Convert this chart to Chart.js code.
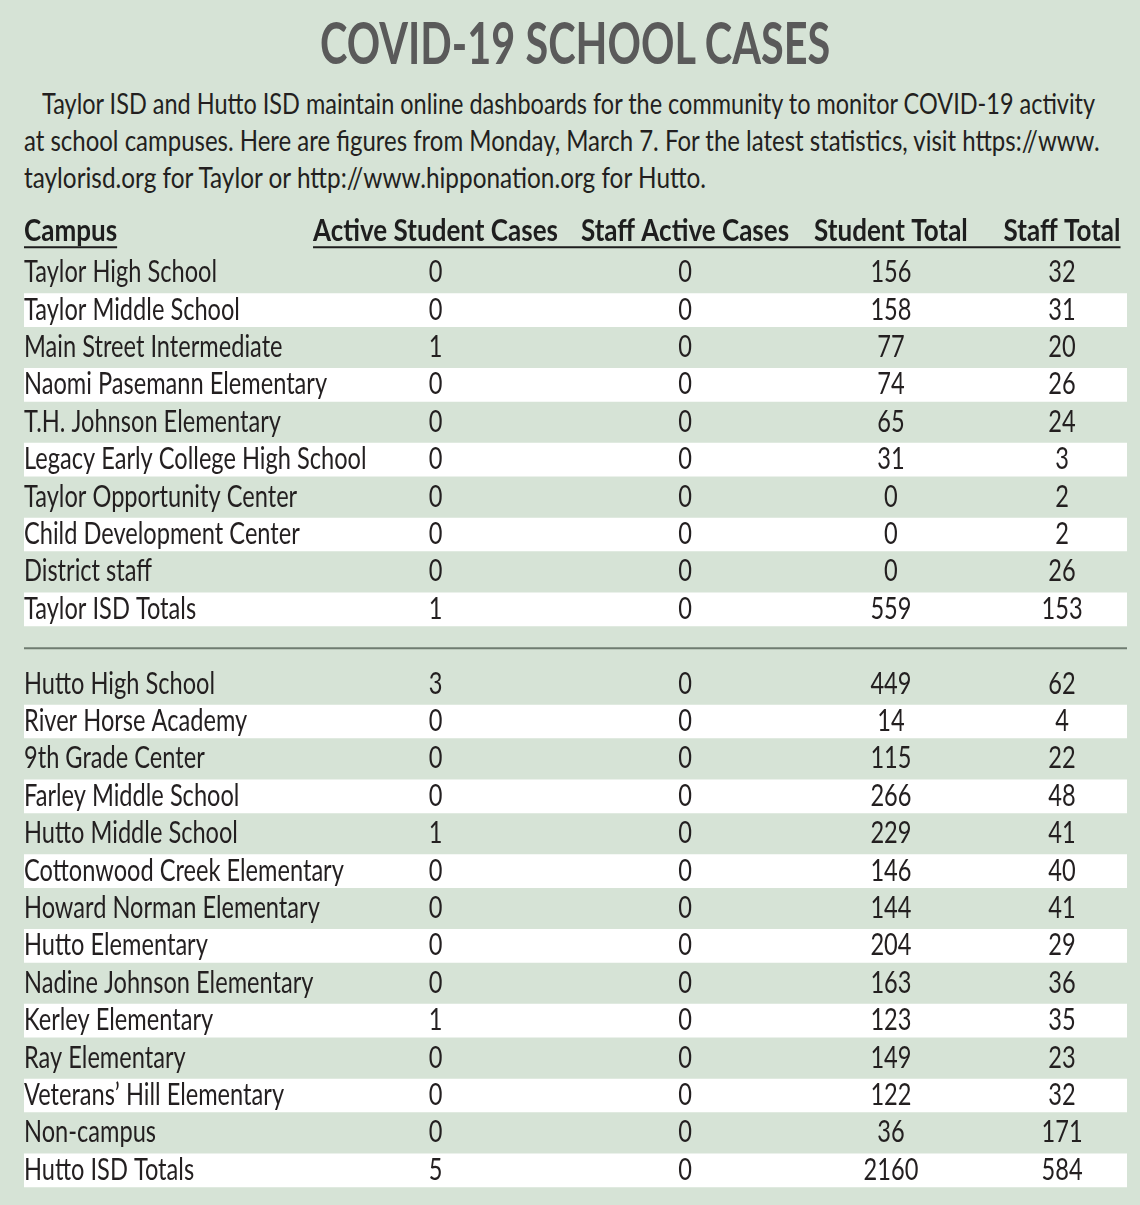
<!DOCTYPE html>
<html>
<head>
<meta charset="utf-8">
<title>COVID-19 School Cases</title>
<script src="https://cdn.jsdelivr.net/npm/chart.js@4.4.1/dist/chart.umd.min.js"></script>
<style>
    html, body { margin: 0; padding: 0; background: #d6e3d6; }
    #page { position: relative; width: 1140px; height: 1205px; overflow: hidden; }
    .line {
        position: absolute; white-space: nowrap; font-family: Lato, sans-serif;
        color: #231f20; line-height: 1.2; transform-origin: 0 0;
    }
    #title { font-weight: 700; font-size: 58px; color: #5a5a5a; top: 7px; left: 320px; }
    .para { font-size: 28px; }
    #table-chart { position: absolute; left: 0; top: 0; }
</style>
</head>
<body>
<div id="page">
    <div id="title" class="line"></div>
    <div id="intro-0" class="line para"></div>
    <div id="intro-1" class="line para"></div>
    <div id="intro-2" class="line para"></div>
    <canvas id="table-chart" width="1140" height="1205"></canvas>
</div>
<script>
// Teks judul dan pengantar
const titleText = 'COVID-19 SCHOOL CASES';
const introLines = [
    'Taylor ISD and Hutto ISD maintain online dashboards for the community to monitor COVID-19 activity',
    'at school campuses. Here are figures from Monday, March 7. For the latest statistics, visit https://www.',
    'taylorisd.org for Taylor or http://www.hipponation.org for Hutto.'
];

// Kolom tabel
const headers = ['Campus', 'Active Student Cases', 'Staff Active Cases', 'Student Total', 'Staff Total'];

// Taylor ISD
const taylorCampuses = [
    'Taylor High School', 'Taylor Middle School', 'Main Street Intermediate',
    'Naomi Pasemann Elementary', 'T.H. Johnson Elementary', 'Legacy Early College High School',
    'Taylor Opportunity Center', 'Child Development Center', 'District staff', 'Taylor ISD Totals'
];
const taylorActiveStudent = [0, 0, 1, 0, 0, 0, 0, 0, 0, 1];
const taylorStaffActive   = [0, 0, 0, 0, 0, 0, 0, 0, 0, 0];
const taylorStudentTotal  = [156, 158, 77, 74, 65, 31, 0, 0, 0, 559];
const taylorStaffTotal    = [32, 31, 20, 26, 24, 3, 2, 2, 26, 153];

// Hutto ISD
const huttoCampuses = [
    'Hutto High School', 'River Horse Academy', '9th Grade Center', 'Farley Middle School',
    'Hutto Middle School', 'Cottonwood Creek Elementary', 'Howard Norman Elementary',
    'Hutto Elementary', 'Nadine Johnson Elementary', 'Kerley Elementary', 'Ray Elementary',
    'Veterans\u2019 Hill Elementary', 'Non-campus', 'Hutto ISD Totals'
];
const huttoActiveStudent = [3, 0, 0, 0, 1, 0, 0, 0, 0, 1, 0, 0, 0, 5];
const huttoStaffActive   = [0, 0, 0, 0, 0, 0, 0, 0, 0, 0, 0, 0, 0, 0];
const huttoStudentTotal  = [449, 14, 115, 266, 229, 146, 144, 204, 163, 123, 149, 122, 36, 2160];
const huttoStaffTotal    = [62, 4, 22, 48, 41, 40, 41, 29, 36, 35, 23, 32, 171, 584];

// Posisi kolom pada sumbu x (0..1 = lebar tabel)
const colPos = [0, 0.3731, 0.5993, 0.786, 0.9411];
const textColor = '#231f20';

// Susun baris: Taylor, jarak, Hutto
function buildRows() {
    const rows = [];
    taylorCampuses.forEach((name, i) => {
        rows.push({ type: 'data', name, stripe: i % 2 === 1,
            values: [taylorActiveStudent[i], taylorStaffActive[i], taylorStudentTotal[i], taylorStaffTotal[i]] });
    });
    rows.push({ type: 'gap', name: '' });
    huttoCampuses.forEach((name, i) => {
        rows.push({ type: 'data', name, stripe: i % 2 === 1,
            values: [huttoActiveStudent[i], huttoStaffActive[i], huttoStudentTotal[i], huttoStaffTotal[i]] });
    });
    return rows;
}
const rows = buildRows();

function drawScaled(ctx, str, px, py, align, sx) {
    ctx.save();
    ctx.translate(px, py);
    ctx.scale(sx, 1);
    ctx.textAlign = align;
    ctx.fillText(str, 0, 0);
    ctx.restore();
}

// Plugin untuk menggambar isi tabel lewat skala chart
const tablePlugin = {
    id: 'tableText',
    afterDatasetsDraw(chart) {
        const { ctx, scales: { x, y } } = chart;
        const bodyFont = '30px Lato, sans-serif';
        const headFont = 'bold 30px Lato, sans-serif';

        ctx.save();
        ctx.font = bodyFont;
        const bodyScale = 193 / ctx.measureText('Taylor High School').width;
        ctx.font = headFont;
        const headScale = 245 / ctx.measureText('Active Student Cases').width;
        ctx.textBaseline = 'alphabetic';

        // Header kolom, di atas baris pertama
        const hy = y.getPixelForValue(0) - 42;
        ctx.fillStyle = '#1e1e1e';
        const widths = headers.map(h => ctx.measureText(h).width * headScale);
        headers.forEach((h, c) => {
            drawScaled(ctx, h, x.getPixelForValue(colPos[c]), hy + 10.5, c === 0 ? 'left' : 'center', headScale);
        });
        const uy = hy + 16.5;
        const x0 = x.getPixelForValue(colPos[0]);
        const x1 = x.getPixelForValue(colPos[1]) - widths[1] / 2;
        const x4 = x.getPixelForValue(colPos[4]) + widths[4] / 2;
        ctx.strokeStyle = '#1e1e1e';
        ctx.lineWidth = 2;
        ctx.beginPath();
        ctx.moveTo(x0, uy); ctx.lineTo(x0 + widths[0], uy);
        ctx.moveTo(x1, uy); ctx.lineTo(x4, uy);
        ctx.stroke();

        rows.forEach((row, r) => {
            const cy = y.getPixelForValue(r);
            if (row.type === 'gap') {
                ctx.strokeStyle = '#6f7c71';
                ctx.lineWidth = 2;
                ctx.beginPath();
                ctx.moveTo(x.getPixelForValue(0), cy + 1.5);
                ctx.lineTo(x.getPixelForValue(1), cy + 1.5);
                ctx.stroke();
                return;
            }
            const base = cy + 9.5;
            ctx.font = bodyFont;
            ctx.fillStyle = textColor;
            drawScaled(ctx, row.name, x.getPixelForValue(colPos[0]), base, 'left', bodyScale);
            row.values.forEach((v, c) => {
                drawScaled(ctx, String(v), x.getPixelForValue(colPos[c + 1]), base, 'center', bodyScale);
            });
        });
        ctx.restore();
    }
};

function setupText() {
    const title = document.getElementById('title');
    title.textContent = titleText;
    title.style.transform = `scaleX(${510 / title.offsetWidth})`;

    const lefts = [42, 24, 24];
    const tops = [87, 124, 161];
    const targets = [1053, 1076, 682];
    introLines.forEach((text, i) => {
        const el = document.getElementById('intro-' + i);
        el.textContent = text;
        el.style.left = lefts[i] + 'px';
        el.style.top = tops[i] + 'px';
        el.style.transform = `scaleX(${targets[i] / el.offsetWidth})`;
    });
}

function setupTable() {
    const ctx = document.getElementById('table-chart');
    new Chart(ctx, {
        type: 'bar',
        data: {
            labels: rows.map(r => r.name),
            datasets: [{
                data: rows.map(r => (r.stripe ? [0, 1] : null)),
                backgroundColor: '#ffffff',
                borderWidth: 0,
                borderSkipped: false,
                barPercentage: 0.9,
                categoryPercentage: 1
            }]
        },
        options: {
            indexAxis: 'y',
            responsive: false,
            animation: false,
            events: [],
            layout: { padding: { top: 254, bottom: 16, left: 24, right: 13 } },
            scales: {
                x: { type: 'linear', min: 0, max: 1, display: false },
                y: { type: 'category', display: false, offset: true }
            },
            plugins: {
                legend: { display: false },
                tooltip: { enabled: false },
                title: { display: false }
            }
        },
        plugins: [tablePlugin]
    });
}

document.fonts.load('30px Lato').then(() => document.fonts.load('bold 30px Lato')).finally(() => {
    setupText();
    setupTable();
});
</script>
</body>
</html>
